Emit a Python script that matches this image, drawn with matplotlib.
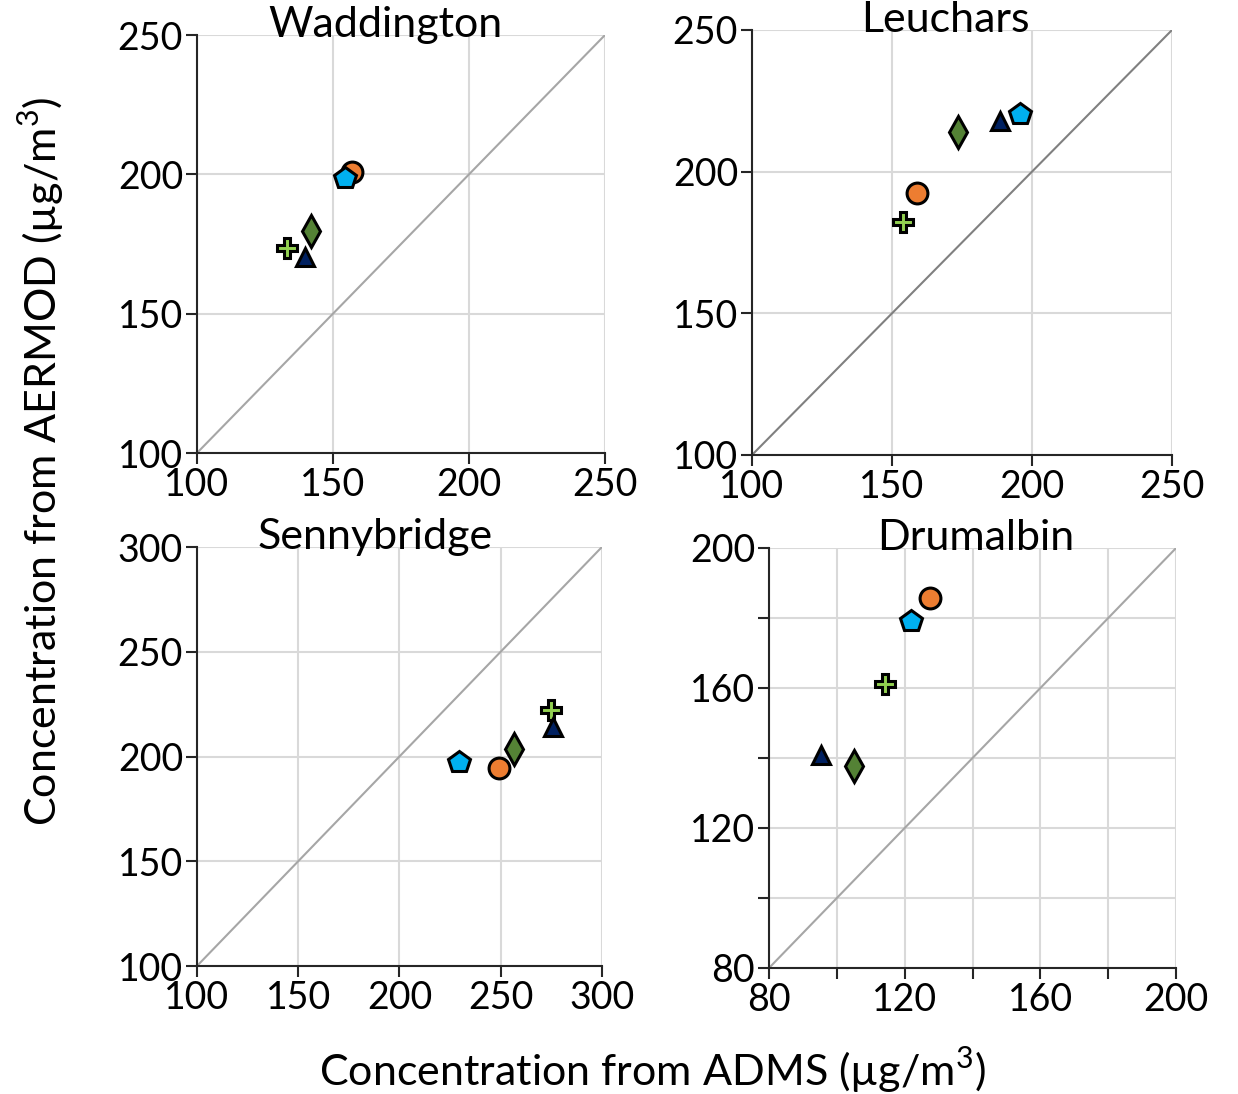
import numpy as np
import matplotlib
matplotlib.use('Agg')
import matplotlib.pyplot as plt

plt.rcParams['font.family'] = ['Lato', 'DejaVu Sans']
plt.rcParams['mathtext.fontset'] = 'custom'
plt.rcParams['mathtext.rm'] = 'Lato'

# site data: ADMS (x) vs AERMOD (y), one point per series
sites = ['Waddington', 'Leuchars', 'Sennybridge', 'Drumalbin']

circle_x = [157, 159, 249, 127.5]
circle_y = [201, 192.5, 194.5, 185.7]
pent_x = [154.4, 195.7, 229.4, 121.9]
pent_y = [198.7, 220.4, 197.4, 179.1]
diam_x = [141.9, 173.6, 256.5, 105.1]
diam_y = [179.7, 214, 203.6, 137.7]
plus_x = [133.1, 153.9, 274.8, 114.2]
plus_y = [173.6, 182.2, 222.2, 161.1]
tri_x = [139.7, 188.6, 275.8, 95.3]
tri_y = [170.3, 217.9, 214, 140.9]

limits = [(100, 250), (100, 250), (100, 300), (80, 200)]
major = [[100, 150, 200, 250], [100, 150, 200, 250],
         [100, 150, 200, 250, 300], [80, 120, 160, 200]]
minor = [[], [], [], [100, 140, 180]]

positions = [[0.1591, 0.5859, 0.3296, 0.3821],
             [0.6074, 0.5841, 0.3393, 0.3885],
             [0.1591, 0.1170, 0.3271, 0.3830],
             [0.6212, 0.1152, 0.3288, 0.3839]]
title_x = [0.461, 0.46, 0.44, 0.509]
diag_col = ['#a6a6a6', '#808080', '#a6a6a6', '#a6a6a6']

series = [
    (circle_x, circle_y, 'o', '#ed7d31', 15),
    (pent_x, pent_y, 'p', '#00b0f0', 16),
    (diam_x, diam_y, 'd', '#548235', 16),
    (plus_x, plus_y, 'P', '#92d050', 14),
    (tri_x, tri_y, '^', '#002060', 13),
]

fig = plt.figure(figsize=(12.38, 10.94), dpi=100)

for i, name in enumerate(sites):
    ax = fig.add_axes(positions[i])
    lo, hi = limits[i]
    ax.plot([lo, hi], [lo, hi], color=diag_col[i], lw=1.5, zorder=2)
    for xs, ys, m, c, ms in series:
        ax.plot(xs[i], ys[i], marker=m, markersize=ms, markerfacecolor=c,
                markeredgecolor='black', markeredgewidth=2.2, ls='none',
                zorder=5, clip_on=False)
    ax.set_xlim(lo, hi)
    ax.set_ylim(lo, hi)
    ax.set_xticks(major[i])
    ax.set_yticks(major[i])
    ax.set_xticks(minor[i], minor=True)
    ax.set_yticks(minor[i], minor=True)
    ax.grid(True, which='both', color='#d9d9d9', lw=1.5, zorder=0)
    ax.set_axisbelow(True)
    for s in ['top', 'right']:
        ax.spines[s].set_visible(False)
    for s in ['left', 'bottom']:
        ax.spines[s].set_linewidth(1.5)
        ax.spines[s].set_color('#262626')
    ax.tick_params(which='both', direction='out', length=8, width=1.5,
                   labelsize=27, pad=2, colors='#262626', labelcolor='black')
    ax.text(title_x[i], 0.995, name, transform=ax.transAxes, ha='center',
            va='baseline', fontsize=31)

fig.text(0.527, 0.022, 'Concentration from ADMS (µg/m$^3$)', ha='center',
         va='center', fontsize=31)
fig.text(0.033, 0.578, 'Concentration from AERMOD (µg/m$^3$)', ha='center',
         va='center', rotation=90, fontsize=31)

fig.savefig('out.png', dpi=100)
